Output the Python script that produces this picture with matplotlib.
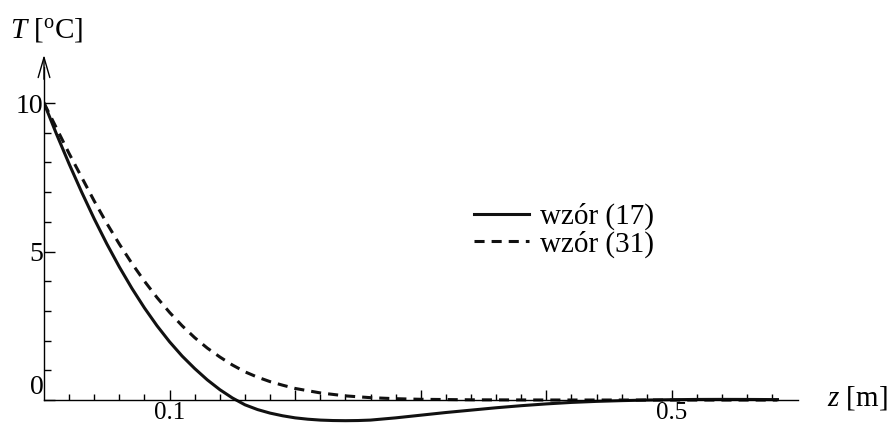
import matplotlib
matplotlib.use('Agg')
import matplotlib.pyplot as plt
import numpy as np

# głębokość z [m], temperatura T [°C]
z_17 = [0.0, 0.01, 0.02, 0.03, 0.04, 0.05, 0.06, 0.07, 0.08, 0.09, 0.10, 0.11,
        0.12, 0.13, 0.14, 0.15, 0.16, 0.17, 0.18, 0.19, 0.20, 0.21, 0.22, 0.23,
        0.24, 0.25, 0.26, 0.28, 0.30, 0.32, 0.34, 0.36, 0.38, 0.40, 0.42, 0.44,
        0.46, 0.48, 0.50, 0.52, 0.54, 0.56, 0.584]
T_17 = [10.0, 8.95, 7.95, 7.0, 6.1, 5.26, 4.48, 3.76, 3.10, 2.50, 1.96, 1.48,
        1.06, 0.68, 0.35, 0.07, -0.16, -0.32, -0.44, -0.53, -0.60, -0.645, -0.675, -0.69,
        -0.695, -0.69, -0.675, -0.6, -0.51, -0.42, -0.34, -0.26, -0.19, -0.13, -0.08, -0.045,
        -0.02, 0.0, 0.012, 0.02, 0.022, 0.02, 0.015]

z_31 = [0.0, 0.01, 0.02, 0.03, 0.04, 0.05, 0.06, 0.07, 0.08, 0.09, 0.10, 0.11,
        0.12, 0.13, 0.14, 0.15, 0.16, 0.17, 0.18, 0.19, 0.20, 0.22, 0.24, 0.26,
        0.28, 0.30, 0.34, 0.40, 0.50, 0.584]
T_31 = [10.0, 9.15, 8.3, 7.5, 6.7, 5.95, 5.25, 4.6, 4.0, 3.45, 2.95, 2.5,
        2.1, 1.75, 1.45, 1.18, 0.95, 0.77, 0.62, 0.5, 0.39, 0.24, 0.14, 0.08,
        0.045, 0.025, 0.008, 0.002, 0.0, 0.0]

labels = ['wzór (17)', 'wzór (31)']
x_major = [0.1, 0.2, 0.3, 0.4, 0.5]
x_labeled = {0.1: '0.1', 0.5: '0.5'}
y_major = [0, 5, 10]

plt.rcParams['font.family'] = ['Liberation Serif', 'DejaVu Serif']
plt.rcParams['mathtext.fontset'] = 'custom'
plt.rcParams['mathtext.rm'] = 'Liberation Serif'
plt.rcParams['mathtext.it'] = 'Liberation Serif:italic'

fig = plt.figure(figsize=(8.92, 4.24), dpi=100)
ax = fig.add_axes([44 / 892, 0.2 / 424, 772.4 / 892, 371.25 / 424])
ax.set_xlim(0, 0.615)
ax.set_ylim(-0.8, 11.7)

ax.plot(z_17, T_17, color='#111111', lw=2.2, label=labels[0])
ax.plot(z_31, T_31, color='#111111', lw=2.2, ls=(0, (3.3, 2.3)), label=labels[1])

for s in ['top', 'right']:
    ax.spines[s].set_visible(False)
ax.spines['bottom'].set_position(('data', 0))
ax.spines['bottom'].set_bounds(0, 0.6)
ax.spines['left'].set_bounds(0, 11.2)
for s in ['bottom', 'left']:
    ax.spines[s].set_linewidth(1.0)

ax.annotate('', xy=(0.6154, 0), xytext=(0.58, 0),
            arrowprops=dict(arrowstyle='->,head_length=1.3,head_width=0.45', lw=1.0,
                            shrinkA=0, shrinkB=0, mutation_scale=10))
ax.annotate('', xy=(0, 11.62), xytext=(0, 10.8),
            arrowprops=dict(arrowstyle='->,head_length=1.45,head_width=0.42', lw=1.0,
                            shrinkA=0, shrinkB=0, mutation_scale=10))

ax.set_xticks(x_major)
ax.set_xticks(np.arange(0.02, 0.59, 0.02), minor=True)
ax.set_xticklabels([x_labeled.get(round(v, 1), '') for v in x_major])
ax.set_yticks(y_major)
ax.set_yticks([1, 2, 3, 4, 6, 7, 8, 9], minor=True)
ax.set_yticklabels([str(v) for v in y_major])

ax.tick_params(axis='x', which='major', direction='in', length=7, width=1.0, pad=1.5, labelsize=18)
ax.tick_params(axis='x', which='minor', direction='in', length=4, width=1.0)
ax.tick_params(axis='y', which='major', direction='in', length=8, width=1.0, pad=0.5, labelsize=20)
ax.tick_params(axis='y', which='minor', direction='in', length=5, width=1.0)
ax.get_yticklabels()[0].set_va('bottom')

fig.text(10 / 892, 1 - 30 / 424, r'$T$ [$^{\rm o}$C]', fontsize=21, va='center', ha='left')
fig.text(827 / 892, 1 - 398 / 424, r'$z$ [m]', fontsize=21, va='center', ha='left')

ax.legend(loc='upper left', bbox_to_anchor=(474 / 892, 1 - 203 / 424),
          bbox_transform=fig.transFigure, frameon=False, fontsize=21,
          handlelength=1.9, handletextpad=0.35, labelspacing=0.0,
          borderpad=0, borderaxespad=0)

fig.savefig('out.png', dpi=100)
